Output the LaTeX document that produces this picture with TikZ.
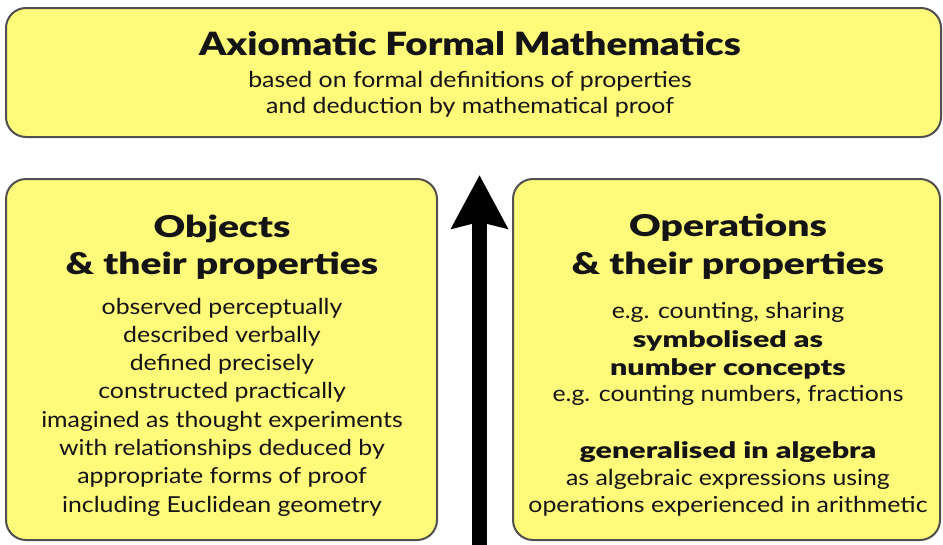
\documentclass[tikz,border=0pt]{standalone}
\usepackage{fontspec}
\setmainfont{Lato}
\newfontfamily\titlef{Lato Black}[FakeStretch=1.2]
\newfontfamily\headf{Lato Black}[FakeStretch=1.3]
\newfontfamily\boldf{Lato Black}[FakeStretch=1.35]
\newfontfamily\bodyf{Lato}[FakeStretch=1.13]
\usetikzlibrary{arrows.meta}
\definecolor{boxfill}{HTML}{FFFA7A}
\definecolor{boxline}{HTML}{505050}
\definecolor{ink}{HTML}{141414}
\tikzset{
  panel/.style={draw=boxline, fill=boxfill, line width=2pt, rounded corners=20pt},
  titletext/.style={anchor=base, inner sep=0pt, text=ink, font=\fontsize{32pt}{36pt}\selectfont\titlef},
  headtext/.style={anchor=base, inner sep=0pt, text=ink, font=\fontsize{30pt}{34pt}\selectfont\headf},
  bodytext/.style={anchor=base, inner sep=0pt, text=ink, font=\fontsize{22pt}{27pt}\selectfont\bodyf},
  boldtext/.style={anchor=base, inner sep=0pt, text=ink, font=\fontsize{22.5pt}{27pt}\selectfont\boldf},
  bigarrow/.style={line width=15pt, -{Stealth[length=53pt, width=55pt, inset=6pt]}}
}
\begin{document}
\begin{tikzpicture}[x=1pt, y=-1pt]
\useasboundingbox (0,0) rectangle (943,544);
% boxes
\draw[panel] (6,8) rectangle (941,137);
\draw[panel] (6,179) rectangle (437,540);
\draw[panel] (513,179) rectangle (940,540);
% arrow
\coordinate (abot) at (479.5,550);
\coordinate (atop) at (479.5,175);
\draw[bigarrow] (abot) -- (atop);
% top text
\node[titletext] (t1) at (470,55) {Axiomatic Formal Mathematics};
\node[bodytext] (t2) at (470,87) {based on formal definitions of properties};
\node[bodytext] (t3) at (470,113) {and deduction by mathematical proof};
% left text
\node[headtext] (l1) at (222,237) {Objects};
\node[headtext] (l2) at (222,274) {\& their properties};
\node[bodytext] (l3) at (222,314) {observed perceptually};
\node[bodytext] (l4) at (222,342) {described verbally};
\node[bodytext] (l5) at (222,370) {defined precisely};
\node[bodytext] (l6) at (222,398) {constructed practically};
\node[bodytext] (l7) at (222,427) {imagined as thought experiments};
\node[bodytext] (l8) at (222,455) {with relationships deduced by};
\node[bodytext] (l9) at (222,483) {appropriate forms of proof};
\node[bodytext] (l10) at (222,512) {including Euclidean geometry};
% right text
\node[headtext] (r1) at (728,236) {Operations};
\node[headtext] (r2) at (728,274) {\& their properties};
\node[bodytext] (r3) at (728,318) {e.g. counting, sharing};
\node[boldtext] (r4) at (728,347) {symbolised as};
\node[boldtext] (r5) at (728,375) {number concepts};
\node[bodytext] (r6) at (728,401) {e.g. counting numbers, fractions};
\node[boldtext] (r7) at (728,458) {generalised in algebra};
\node[bodytext] (r8) at (728,485) {as algebraic expressions using};
\node[bodytext] (r9) at (728,512) {operations experienced in arithmetic};
\end{tikzpicture}
\end{document}
